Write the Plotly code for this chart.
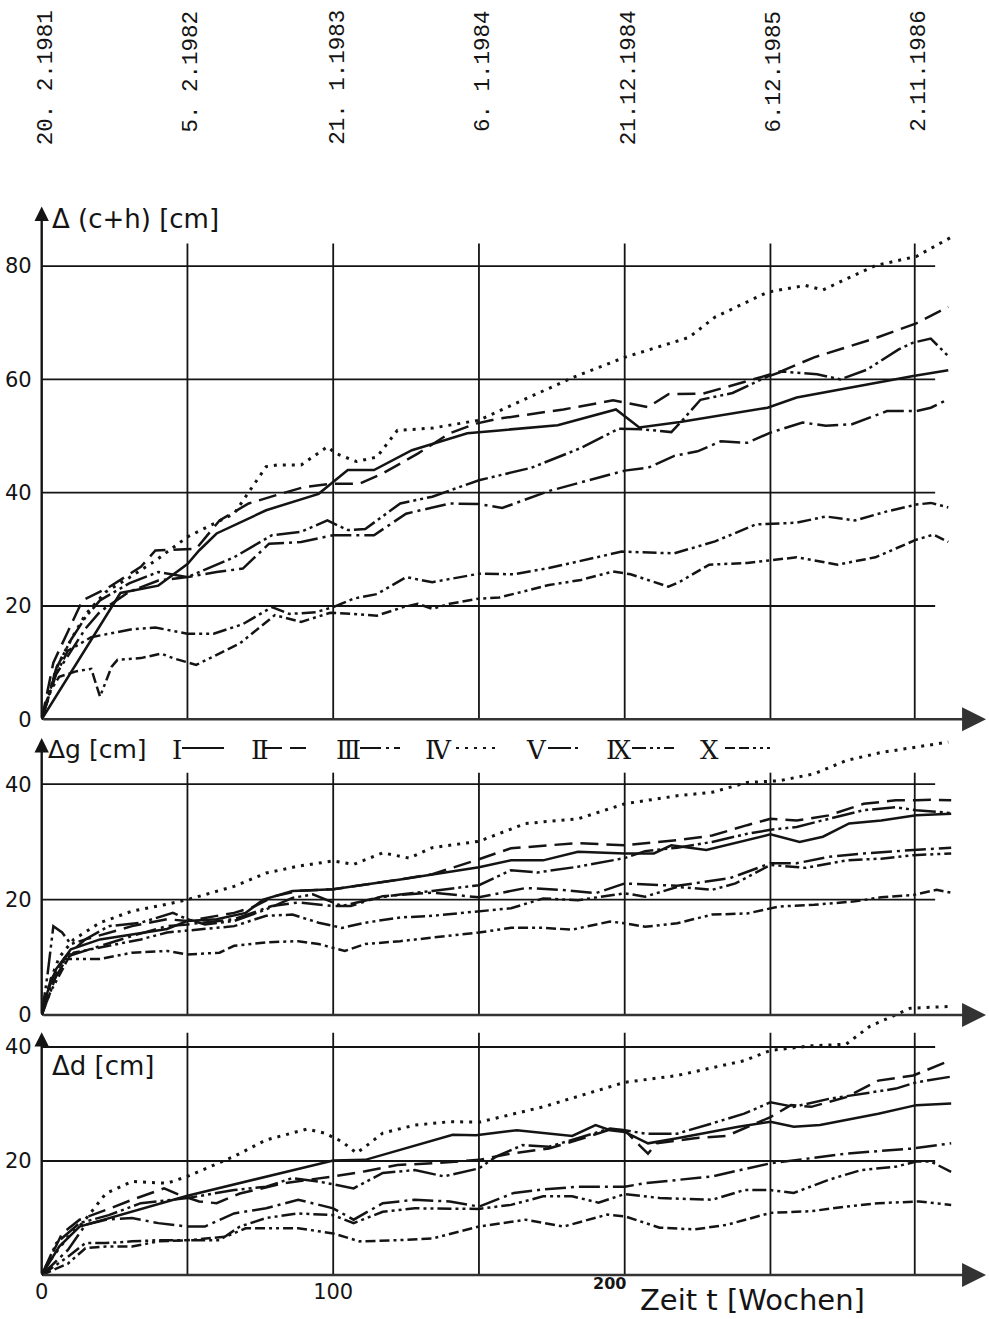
import plotly.graph_objects as go

W, H = 989, 1319
X0_PX = 41.7          # pixel of week 0
PPW = 2.915           # pixels per week
X_MAX = (W - X0_PX) / PPW

# ---------------- data (weeks / cm) ----------------
date_weeks = [0, 50, 100, 150, 200, 250, 299.5]
date_labels = ["20. 2.1981", "5. 2.1982", "21. 1.1983", "6. 1.1984",
               "21.12.1984", "6.12.1985", "2.11.1986"]

# Panel 1: delta (c+h)
ch_I_x = [0, 27, 40, 50, 54, 60, 77, 95, 105, 114, 127, 146, 157, 177, 197, 205, 219, 249, 259, 299, 311]
ch_I_y = [0, 22.3, 23.6, 27.4, 29.8, 32.8, 36.9, 39.8, 44, 44, 47.5, 50.5, 51, 51.9, 54.7, 51.5, 52.5, 55, 56.8, 60.6, 61.6]
ch_II_x = [0, 4, 9, 14, 23, 34, 39, 53, 61, 71, 82, 90, 100, 109, 117, 129, 140, 149, 156, 179, 196, 208, 215, 227, 242, 254, 265, 285, 300, 311]
ch_II_y = [0, 10, 15.5, 21, 23.3, 26.9, 29.8, 30.1, 35.1, 38.1, 39.8, 41, 41.6, 41.6, 43.4, 46.9, 50.5, 52.2, 53, 54.7, 56.3, 55.1, 57.4, 57.5, 59.7, 61.5, 63.9, 67.1, 69.9, 72.8]
ch_III_x = [0, 5, 10, 15, 20, 30, 40, 50, 60, 69, 78, 89, 100, 114, 125, 140, 150, 158, 174, 200, 208, 217, 225, 233, 242, 250, 261, 269, 278, 290, 300, 305, 311]
ch_III_y = [0, 8, 12, 16, 19, 22.5, 24.5, 25.1, 26, 26.6, 31, 31.3, 32.5, 32.5, 36.3, 38.1, 38, 37.3, 40.3, 43.9, 44.4, 46.5, 47.3, 49.1, 48.8, 50.6, 52.4, 51.8, 52.1, 54.4, 54.4, 55, 56.5]
ch_IV_x = [0, 5, 10, 15, 22, 30, 39, 50, 66, 77, 81, 89, 98, 101, 108, 115, 122, 134, 150, 182, 200, 222, 231, 249, 262, 268, 286, 300, 312]
ch_IV_y = [0, 9, 14, 18.5, 22.5, 25, 28, 32.2, 36.3, 44.6, 44.9, 44.9, 48.1, 46.9, 45.5, 46.3, 51, 51.4, 52.8, 60.3, 63.9, 67.4, 71, 75.4, 76.6, 75.8, 80.1, 81.7, 85.1]
ch_V_x = [0, 5, 10, 15, 20, 30, 40, 45, 50, 66, 79, 89, 98, 105, 111, 123, 134, 150, 168, 185, 198, 206, 216, 220, 226, 237, 249, 254, 266, 274, 283, 294, 299, 305, 311]
ch_V_y = [0, 9, 14, 18, 21, 24, 26, 25.5, 25.1, 28.6, 32.5, 33.1, 35.1, 33.4, 33.6, 38.1, 39.3, 42.2, 44.4, 47.9, 51.3, 51.2, 50.7, 52.9, 56.4, 57.6, 60.5, 61.4, 60.9, 60, 61.7, 65.3, 66.5, 67.2, 64.1]
ch_IX_x = [0, 4, 9, 17, 23, 31, 39, 50, 59, 69, 79, 85, 94, 100, 107, 115, 125, 134, 150, 162, 174, 199, 217, 231, 245, 259, 269, 279, 290, 300, 305, 311]
ch_IX_y = [0, 7, 12.1, 14.5, 15.1, 15.9, 16.2, 15.1, 15.1, 16.8, 19.8, 18.6, 18.9, 19.8, 21.3, 22.1, 25.1, 24.2, 25.7, 25.6, 26.7, 29.6, 29.3, 31.4, 34.4, 34.7, 35.8, 35.1, 36.7, 37.9, 38.2, 37.4]
ch_X_x = [0, 3, 6, 12, 17, 20, 24, 26, 34, 41, 45, 53, 68, 80, 89, 99, 107, 115, 124, 129, 134, 140, 150, 157, 174, 185, 196, 202, 215, 219, 229, 242, 259, 273, 286, 300, 306, 311]
ch_X_y = [0, 5, 7.5, 8.5, 8.9, 4, 9.3, 10.5, 10.8, 11.6, 10.8, 9.6, 13.4, 18.4, 17.2, 18.8, 18.6, 18.3, 19.8, 20.4, 19.5, 20.4, 21.3, 21.5, 23.7, 24.6, 26.1, 25.6, 23.4, 24.3, 27.3, 27.6, 28.6, 27.3, 28.6, 31.7, 32.6, 31.3]

# Panel 2: delta g
g_I_x = [0, 2, 5, 10, 20, 31, 43, 50, 60, 70, 76, 86, 100, 123, 150, 161, 172, 184, 200, 210, 216, 228, 250, 260, 268, 277, 288, 300, 312]
g_I_y = [0, 4, 8, 11.4, 13.1, 14, 14.9, 16.3, 16.6, 17.7, 20, 21.5, 21.8, 23.5, 25.6, 26.8, 26.8, 28.3, 28, 28, 29.4, 28.6, 31.3, 30, 30.9, 33.2, 33.7, 34.6, 34.9]
g_II_x = [0, 3, 8, 15, 31, 43, 50, 66, 72, 80, 88, 100, 123, 134, 150, 161, 184, 200, 218, 230, 242, 250, 259, 270, 282, 293, 300, 305, 312]
g_II_y = [0, 6, 10, 13.1, 15.4, 16.6, 16.3, 17.7, 18.6, 20.6, 21.5, 21.8, 23.5, 24.4, 27, 28.9, 29.8, 29.4, 30.3, 31.1, 32.9, 34, 33.7, 34.6, 36.6, 37.2, 37.2, 37.3, 37.2]
g_III_x = [0, 3, 9, 20, 31, 43, 50, 66, 77, 79, 88, 100, 106, 117, 134, 150, 166, 178, 190, 200, 218, 236, 250, 259, 270, 282, 299, 312]
g_III_y = [0, 5, 10.2, 12, 13.7, 15.4, 15.7, 16.6, 18.6, 18.9, 19.5, 18.9, 18.9, 20.6, 21.2, 20.4, 22, 21.7, 21.1, 22.8, 22.4, 23.7, 26.3, 26.3, 27.4, 28, 28.6, 29]
g_IV_x = [0, 3, 6, 11, 20, 31, 43, 50, 66, 77, 88, 100, 107, 117, 126, 134, 150, 166, 184, 200, 218, 230, 242, 253, 265, 276, 288, 300, 311]
g_IV_y = [0, 6, 10, 13.1, 16, 18, 19.2, 20, 22.3, 24.6, 25.8, 26.7, 26.1, 28.1, 27.2, 29, 30.1, 33.2, 34, 36.6, 38, 38.6, 40.3, 40.6, 41.8, 44.1, 45.5, 46.5, 47.3]
g_V_x = [0, 2, 4, 7, 10, 15, 23, 34, 45, 50, 56, 66, 77, 86, 93, 103, 115, 123, 134, 150, 161, 170, 184, 200, 207, 218, 230, 242, 250, 259, 270, 282, 293, 300, 312]
g_V_y = [0, 7, 15.4, 14.3, 12.3, 13.1, 15.4, 16, 17.7, 16.6, 15.7, 16.3, 18.3, 20.3, 20.9, 18.9, 20.3, 20.9, 21.5, 22.5, 25.1, 24.7, 25.7, 27.2, 28.4, 29, 30, 31.4, 32.1, 32.6, 34, 35.5, 36, 35.5, 35]
g_IX_x = [0, 3, 6, 11, 20, 34, 43, 50, 66, 77, 86, 95, 103, 111, 123, 134, 150, 161, 172, 184, 200, 207, 218, 230, 238, 250, 262, 276, 288, 299, 312]
g_IX_y = [0, 4, 8.5, 10.8, 11.7, 13.1, 14.3, 14.6, 15.4, 17.2, 17.4, 16, 15.1, 16, 16.9, 17.2, 18, 18.5, 20.2, 19.9, 21.1, 20.5, 22.2, 21.7, 22.8, 26, 25.5, 26.8, 27.1, 27.7, 28]
g_X_x = [0, 3, 9, 20, 31, 43, 50, 61, 66, 77, 88, 95, 104, 111, 123, 134, 150, 161, 172, 182, 195, 200, 207, 218, 230, 242, 253, 265, 279, 288, 299, 307, 313]
g_X_y = [0, 4, 9.7, 9.7, 10.8, 11.1, 10.5, 10.8, 12, 12.6, 12.8, 12.3, 11.1, 12.3, 12.8, 13.4, 14.3, 15.1, 15.1, 14.8, 16.2, 15.9, 15.3, 15.9, 17.4, 17.6, 18.8, 19.1, 19.7, 20.4, 20.8, 21.7, 21.1]

# Panel 3: delta d
d_I_x = [0, 6, 13, 50, 100, 111, 141, 149, 163, 182, 190, 195, 200, 208, 218, 239, 250, 258, 267, 287, 300, 312]
d_I_y = [0, 5, 8.5, 13.9, 20.1, 20.2, 24.6, 24.5, 25.4, 24.4, 26.3, 25.4, 25.1, 23.1, 24, 26, 26.9, 26, 26.3, 28.3, 29.8, 30.1]
d_II_x = [0, 2, 7, 13, 22, 31, 42, 47, 54, 60, 68, 83, 100, 111, 122, 134, 150, 161, 174, 184, 195, 200, 205, 208, 211, 224, 235, 250, 257, 264, 276, 287, 299, 312]
d_II_y = [0, 2, 7.3, 9.7, 11.4, 13.2, 15.2, 14.1, 12.9, 12.6, 14.3, 16.1, 17.3, 18.2, 19.3, 19.6, 20.2, 21.3, 22.2, 23.7, 25.5, 25.4, 22.8, 21.3, 23.1, 24, 24.4, 27.7, 29.8, 29.5, 31.2, 34.1, 35, 37.7]
d_III_x = [0, 9, 15, 22, 31, 40, 50, 56, 66, 77, 88, 100, 107, 117, 128, 140, 150, 162, 172, 184, 200, 207, 230, 250, 264, 276, 299, 312]
d_III_y = [0, 4.4, 8.8, 9.7, 10, 9.1, 8.5, 8.5, 10.8, 11.7, 13.2, 11.7, 9.7, 12.6, 13.2, 12.9, 12, 14.4, 15, 15.5, 15.5, 16.1, 17.3, 19.6, 20.5, 21.3, 22.2, 23.1]
d_IV_x = [0, 2, 9, 14, 22, 31, 43, 50, 66, 77, 91, 97, 103, 108, 111, 117, 128, 140, 150, 172, 200, 218, 241, 250, 264, 276, 284, 298, 311]
d_IV_y = [0, 2, 6.7, 9.1, 14.3, 16.4, 16.1, 17.3, 20.8, 23.7, 25.6, 24.9, 23.4, 21.4, 22.5, 24.9, 26.3, 26.9, 26.8, 29.5, 33.8, 35, 37.6, 39.4, 40.2, 40.5, 43.6, 46.8, 47.1]
d_V_x = [0, 5, 13, 23, 34, 50, 66, 77, 86, 95, 107, 117, 128, 138, 150, 156, 165, 174, 195, 200, 207, 218, 230, 241, 250, 258, 270, 281, 293, 300, 312]
d_V_y = [0, 5.6, 9.1, 10.5, 12.6, 13.5, 14.9, 15.5, 17, 16.4, 15.2, 17.9, 18.4, 17.3, 18.7, 20.8, 22.8, 22.5, 25.7, 25.4, 24.8, 24.8, 26.6, 28.3, 30.3, 29.5, 30.9, 31.8, 32.7, 33.8, 34.8]
d_IX_x = [0, 9, 15, 22, 31, 40, 50, 61, 68, 77, 88, 100, 107, 117, 128, 140, 150, 161, 172, 182, 191, 200, 212, 230, 241, 250, 258, 270, 281, 293, 300, 305, 312]
d_IX_y = [0, 3.2, 5.6, 5.6, 5.9, 6.1, 6.1, 6.1, 8.5, 10, 10.8, 10.5, 9.1, 11.1, 11.7, 11.7, 11.6, 12.3, 13.8, 13.8, 12.7, 14.2, 13.5, 13.2, 14.9, 14.9, 14.4, 16.7, 18.4, 19, 19.9, 19.9, 18.1]
d_X_x = [0, 9, 15, 22, 31, 40, 50, 63, 70, 88, 100, 109, 122, 134, 150, 166, 179, 194, 200, 212, 224, 235, 250, 264, 276, 287, 301, 312]
d_X_y = [0, 2, 4.7, 5, 5, 5.9, 6.1, 6.7, 8.2, 8.2, 7.3, 5.9, 6.1, 6.4, 8.5, 9.7, 8.5, 10.6, 10.3, 8.3, 8, 8.8, 10.9, 11.2, 12, 12.6, 12.9, 12.3]

series_names = ["I", "II", "III", "IV", "V", "IX", "X"]
legend_glyphs = ["\u2160", "\u2161", "\u2162", "\u2163", "\u2164", "\u2168", "\u2169"]

# ---------------- styles ----------------
INK = "#141414"
FONT = "DejaVu Sans"
DASH = {"I": "solid", "II": "18px,8px", "III": "21px,5px,3px,5px", "IV": "3px,6px",
        "V": "23px,4px,3px,4px,3px,4px", "IX": "14px,4px,3px,4px,3px,4px",
        "X": "10px,4px,10px,4px,3px,4px,3px,4px"}
WID = {"IV": 3.0}

panels = [
    dict(ax="y", y0=719.3, ppu=5.665, top=200, bot=730, grid=[20, 40, 60, 80], vtop=84,
         ytop=90.5, ticks=[0, 20, 40, 60, 80],
         data={"I": (ch_I_x, ch_I_y), "II": (ch_II_x, ch_II_y), "III": (ch_III_x, ch_III_y),
               "IV": (ch_IV_x, ch_IV_y), "V": (ch_V_x, ch_V_y), "IX": (ch_IX_x, ch_IX_y),
               "X": (ch_X_x, ch_X_y)}),
    dict(ax="y2", y0=1015, ppu=5.77, top=735, bot=1025, grid=[20, 40], vtop=42,
         ytop=48, ticks=[0, 20, 40],
         data={"I": (g_I_x, g_I_y), "II": (g_II_x, g_II_y), "III": (g_III_x, g_III_y),
               "IV": (g_IV_x, g_IV_y), "V": (g_V_x, g_V_y), "IX": (g_IX_x, g_IX_y),
               "X": (g_X_x, g_X_y)}),
    dict(ax="y3", y0=1275, ppu=5.7, top=995, bot=1285, grid=[20, 40], vtop=42.5,
         ytop=42.6, ticks=[20, 40],
         data={"I": (d_I_x, d_I_y), "II": (d_II_x, d_II_y), "III": (d_III_x, d_III_y),
               "IV": (d_IV_x, d_IV_y), "V": (d_V_x, d_V_y), "IX": (d_IX_x, d_IX_y),
               "X": (d_X_x, d_X_y)}),
]

fig = go.Figure()
shapes = []
annotations = []
layout_axes = {}

for i, p in enumerate(panels):
    for s in series_names:
        xs, ys = p["data"][s]
        fig.add_trace(go.Scatter(
            x=xs, y=ys, xaxis="x", yaxis=p["ax"], mode="lines", name=s,
            line=dict(color=INK, width=WID.get(s, 2.5), dash=DASH[s]),
            showlegend=False, hoverinfo="skip"))
    key = "yaxis" if i == 0 else "yaxis%d" % (i + 1)
    layout_axes[key] = dict(
        domain=[1 - p["bot"] / H, 1 - p["top"] / H],
        range=[(p["y0"] - p["bot"]) / p["ppu"], (p["y0"] - p["top"]) / p["ppu"]],
        anchor="x", showgrid=False, zeroline=False, showline=False,
        tickvals=p["ticks"], ticks="", ticklabelstandoff=9,
        tickfont=dict(family=FONT, size=21, color=INK), automargin=False)
    # horizontal grid lines
    for g in p["grid"]:
        shapes.append(dict(type="line", xref="x", yref=p["ax"], x0=0, x1=306.5, y0=g, y1=g,
                           line=dict(color=INK, width=1.8), layer="below"))
    # vertical grid lines
    for wk in date_weeks[1:]:
        shapes.append(dict(type="line", xref="x", yref=p["ax"], x0=wk, x1=wk, y0=0,
                           y1=p["vtop"], line=dict(color=INK, width=1.8), layer="below"))
    # x axis with arrow
    annotations.append(dict(x=X_MAX - 1, y=0, ax=0, ay=0, xref="x", yref=p["ax"],
                            axref="x", ayref=p["ax"], text="", showarrow=True,
                            arrowhead=2, arrowsize=2.0, arrowwidth=2.4, arrowcolor="#333",
                            standoff=0, startstandoff=0))
    # y axis with arrow
    annotations.append(dict(x=0, y=p["ytop"], ax=0, ay=0, xref="x", yref=p["ax"],
                            axref="x", ayref=p["ax"], text="", showarrow=True,
                            arrowhead=2, arrowsize=1.2, arrowwidth=2.4, arrowcolor=INK,
                            standoff=0, startstandoff=0))

# date labels on top
for wk, lab in zip(date_weeks, date_labels):
    annotations.append(dict(x=wk, y=1 - 8 / H, xref="x", yref="paper", text=lab,
                            textangle=-90, showarrow=False, xanchor="center", yanchor="top",
                            xshift=4, font=dict(family="Liberation Mono", size=22.5, color=INK)))

# panel titles
def ptext(txt, px, py, size, anchor="left", family=FONT):
    annotations.append(dict(x=px / W, y=1 - py / H, xref="paper", yref="paper", text=txt,
                            showarrow=False, xanchor=anchor, yanchor="middle",
                            font=dict(family=family, size=size, color=INK)))

ptext("\u0394 (c+h) [cm]", 50, 219, 26)
ptext("\u0394g [cm]", 46, 750, 25)
ptext("\u0394d [cm]", 50, 1066, 26)
annotations.append(dict(x=200, y=1 - 1283 / H, xref="x", yref="paper", text="<b>200</b>",
                        showarrow=False, xanchor="right", yanchor="middle", xshift=3,
                        font=dict(family=FONT, size=16, color=INK)))
ptext("Zeit t [Wochen]", 638, 1300, 29)

# legend row (numeral followed by a line sample)
leg_pos = [(170, 182, 224), (249, 264, 306), (334, 360, 400), (423, 456, 497),
           (524, 548, 582), (604, 632, 674), (698, 725, 770)]
for s, glyph, (tx, l0, l1) in zip(series_names, legend_glyphs, leg_pos):
    ptext(glyph, tx, 750, 26, family="DejaVu Serif")
    shapes.append(dict(type="line", xref="paper", yref="paper", x0=l0 / W, x1=l1 / W,
                       y0=1 - 748 / H, y1=1 - 748 / H,
                       line=dict(color=INK, width=2.2, dash=DASH[s])))

fig.update_layout(
    width=W, height=H, margin=dict(l=0, r=0, t=0, b=0),
    paper_bgcolor="white", plot_bgcolor="rgba(0,0,0,0)",
    xaxis=dict(domain=[X0_PX / W, 1], range=[0, X_MAX], showgrid=False, zeroline=False,
               showline=False, tickvals=[0, 100], ticktext=["0", "100"], ticks="",
               anchor="free", position=1 - 1275 / H, ticklabelstandoff=2,
               tickfont=dict(family=FONT, size=21, color=INK), automargin=False),
    shapes=shapes, annotations=annotations, showlegend=False,
    **layout_axes)

fig.write_html("out.html")
